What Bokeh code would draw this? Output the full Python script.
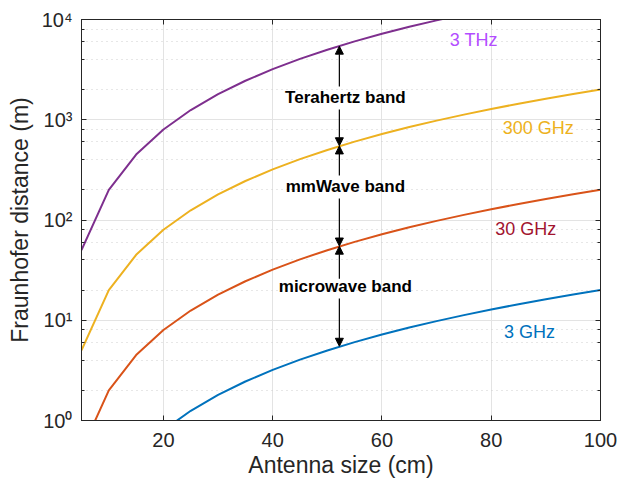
from bokeh.plotting import figure
from bokeh.models import (Range1d, LogAxis, LinearAxis, LogTicker, FixedTicker,
                          CustomJSTickFormatter, Arrow, NormalHead, ColumnDataSource)
from bokeh.core.properties import value
from bokeh.embed import file_html
from bokeh.resources import INLINE

# Antenna size (cm)
size_cm = [5, 10, 15, 20, 25, 30, 35, 40, 45, 50, 55, 60, 65, 70, 75, 80, 85, 90, 95, 100]
# Fraunhofer distance (m) per frequency
d_3ghz = [0.05, 0.2, 0.45, 0.8, 1.25, 1.8, 2.45, 3.2, 4.05, 5.0, 6.05, 7.2, 8.45, 9.8,
          11.25, 12.8, 14.45, 16.2, 18.05, 20.0]
d_30ghz = [0.5, 2.0, 4.5, 8.0, 12.5, 18.0, 24.5, 32.0, 40.5, 50.0, 60.5, 72.0, 84.5, 98.0,
           112.5, 128.0, 144.5, 162.0, 180.5, 200.0]
d_300ghz = [5.0, 20.0, 45.0, 80.0, 125.0, 180.0, 245.0, 320.0, 405.0, 500.0, 605.0, 720.0,
            845.0, 980.0, 1125.0, 1280.0, 1445.0, 1620.0, 1805.0, 2000.0]
d_3thz = [50.0, 200.0, 450.0, 800.0, 1250.0, 1800.0, 2450.0, 3200.0, 4050.0, 5000.0, 6050.0,
          7200.0, 8450.0, 9800.0, 11250.0, 12800.0, 14450.0, 16200.0, 18050.0, 20000.0]

series_names = ["3 GHz", "30 GHz", "300 GHz", "3 THz"]
line_colors = ["#0072BD", "#D95319", "#EDB120", "#7E2F8E"]
label_colors = ["#0072BD", "#A2142F", "#EDB120", "#B34DFF"]
label_x = [87.0, 86.3, 88.6, 76.8]
label_y = [7.55, 82.0, 818.0, 6300.0]

band_names = ["Terahertz band", "mmWave band", "microwave band"]
band_x = [53.3, 53.3, 53.3]
band_y = [1667.0, 216.0, 21.7]

arrow_x = 52.2
arrow_y_start = [2147.0, 1265.0, 278.0, 164.0, 26.0, 16.5]
arrow_y_end = [5420.0, 550.0, 548.0, 55.0, 54.8, 5.5]

FONT = "Liberation Sans"
TXT = "#262626"

p = figure(width=625, height=480, output_backend="svg", toolbar_location=None,
           y_axis_type="log", x_range=Range1d(5, 100), y_range=Range1d(1, 1e4),
           min_border_left=81, min_border_right=25, min_border_top=19, min_border_bottom=60)
p.outline_line_color = TXT
p.outline_line_width = 1

for ys, c in zip([d_3ghz, d_30ghz, d_300ghz, d_3thz], line_colors):
    p.line(size_cm, ys, line_color=c, line_width=2)

sup_js = """
const s = {'0':'\u2070','1':'\u00b9','2':'\u00b2','3':'\u00b3','4':'\u2074','-':'\u207b'};
const e = Math.round(Math.log10(tick)).toString();
let out = '10';
for (const ch of e) out += s[ch];
return out;
"""

for ax in [p.xaxis[0], p.yaxis[0]]:
    ax.axis_line_color = TXT
    ax.major_tick_line_color = TXT
    ax.minor_tick_line_color = TXT
    ax.major_tick_in = 5
    ax.major_tick_out = 0
    ax.minor_tick_in = 3
    ax.minor_tick_out = 0
    ax.major_label_text_font = FONT
    ax.major_label_text_font_size = "20px"
    ax.major_label_text_color = TXT
    ax.axis_label_text_font = FONT
    ax.axis_label_text_font_size = "23px"
    ax.axis_label_text_font_style = "normal"
    ax.axis_label_text_color = TXT

p.xaxis[0].ticker = FixedTicker(ticks=[20, 40, 60, 80, 100])
p.xaxis[0].minor_tick_in = 0
p.xaxis[0].major_label_standoff = 12
p.xaxis[0].axis_label = "Antenna size (cm)"
p.xaxis[0].axis_label_standoff = 2
p.yaxis[0].ticker = LogTicker(desired_num_ticks=5)
p.yaxis[0].formatter = CustomJSTickFormatter(code=sup_js)
p.yaxis[0].major_label_standoff = 9
p.yaxis[0].axis_label = "Fraunhofer distance (m)"
p.yaxis[0].axis_label_standoff = 6

top_ax = LinearAxis(ticker=FixedTicker(ticks=[20, 40, 60, 80, 100]),
                    formatter=CustomJSTickFormatter(code="return '';"))
right_ax = LogAxis(ticker=LogTicker(desired_num_ticks=5),
                   formatter=CustomJSTickFormatter(code="return '';"))
for ax in [top_ax, right_ax]:
    ax.axis_line_color = TXT
    ax.major_tick_line_color = TXT
    ax.minor_tick_line_color = TXT
    ax.major_tick_in = 5
    ax.major_tick_out = 0
    ax.minor_tick_in = 3
    ax.minor_tick_out = 0
    ax.major_label_standoff = 0
top_ax.minor_tick_in = 0
p.add_layout(top_ax, "above")
p.add_layout(right_ax, "right")

p.xgrid.grid_line_color = "#e3e3e3"
p.xgrid.ticker = FixedTicker(ticks=[20, 40, 60, 80, 100])
p.ygrid.grid_line_color = "#e3e3e3"
p.ygrid.minor_grid_line_color = "#cfcfcf"
p.ygrid.minor_grid_line_dash = "1 4"

src_lbl = ColumnDataSource(dict(x=label_x, y=label_y, t=series_names, c=label_colors))
p.text("x", "y", text="t", source=src_lbl, text_color="c", text_font=value(FONT),
       text_font_size="18px", text_align="center", text_baseline="middle")

src_band = ColumnDataSource(dict(x=band_x, y=band_y, t=band_names))
p.text("x", "y", text="t", source=src_band, text_color="black", text_font=value(FONT),
       text_font_size="17px", text_font_style="bold", text_align="center",
       text_baseline="middle")

for ys, ye in zip(arrow_y_start, arrow_y_end):
    p.add_layout(Arrow(end=NormalHead(size=8, fill_color="black", line_color="black"),
                       x_start=arrow_x, y_start=ys, x_end=arrow_x, y_end=ye,
                       line_color="black", line_width=1.2))

open("out.html", "w").write(file_html(p, INLINE))
